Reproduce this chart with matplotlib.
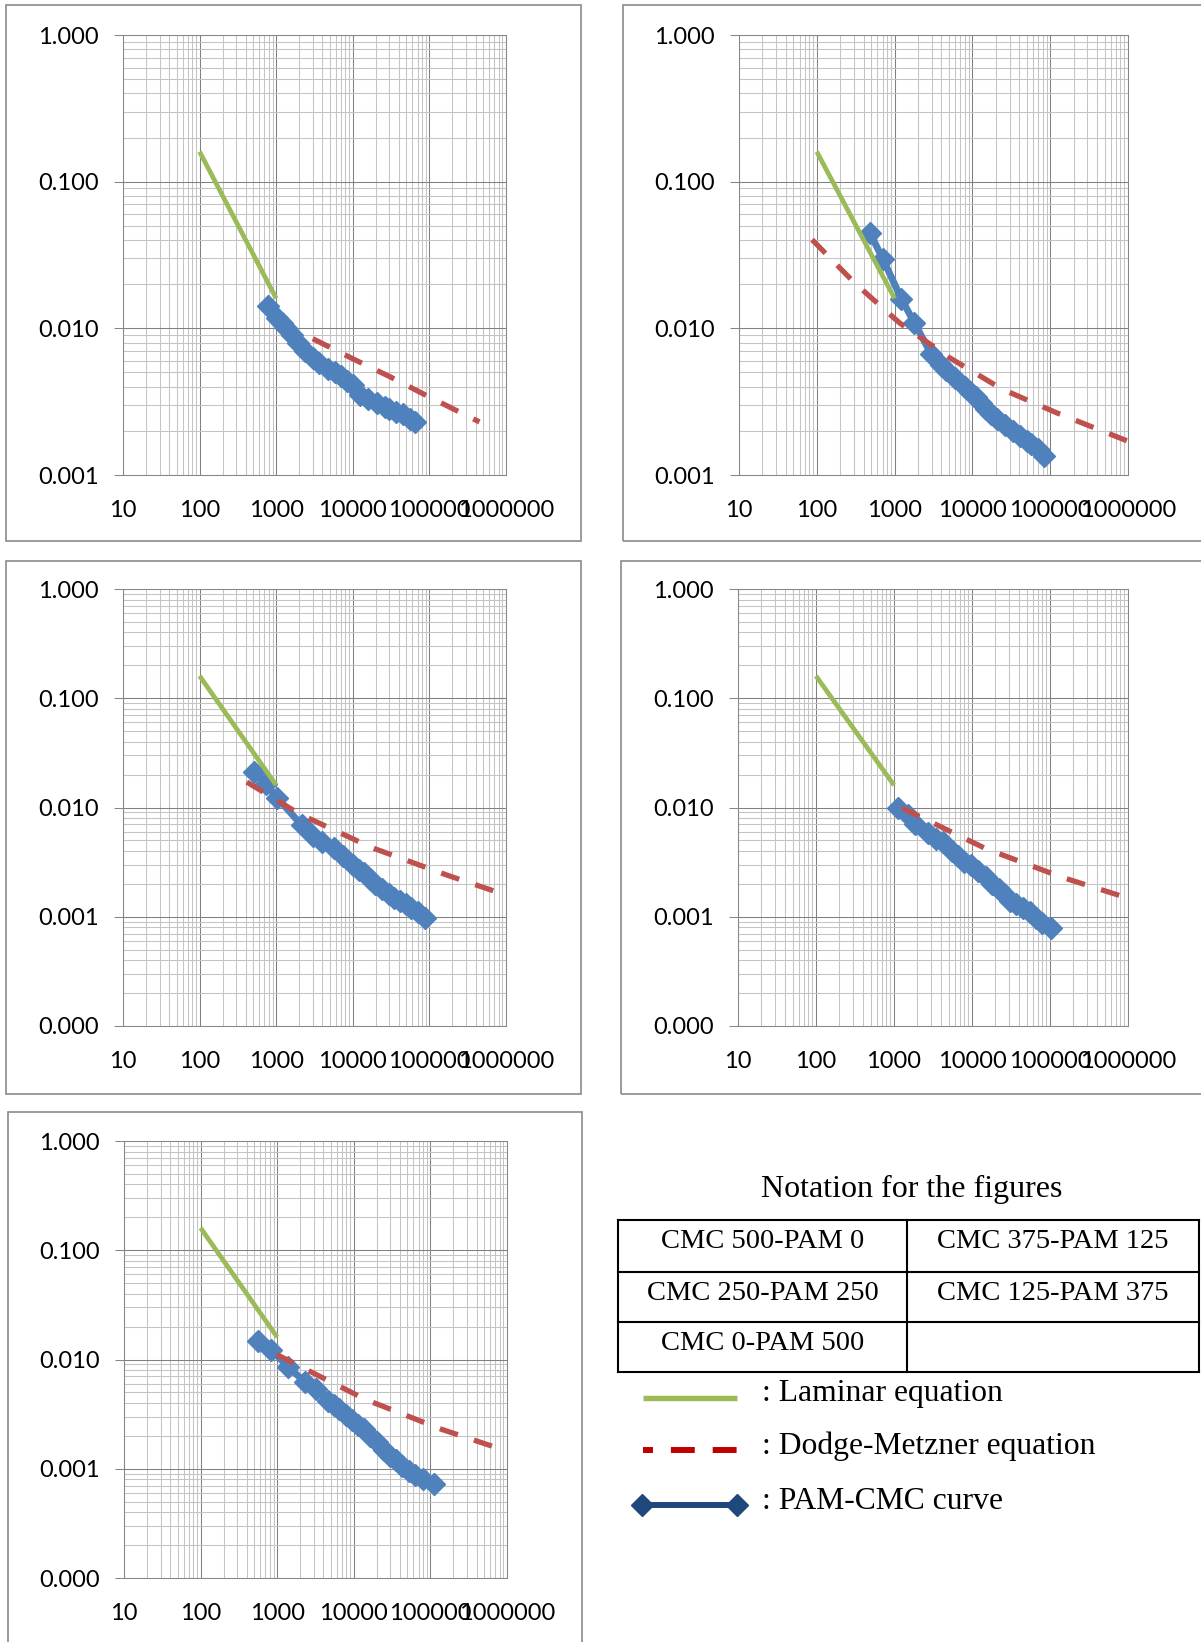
import numpy as np
import matplotlib
matplotlib.use("Agg")
import matplotlib.pyplot as plt
from matplotlib.ticker import LogLocator, NullFormatter, FuncFormatter
from matplotlib.lines import Line2D
from matplotlib.patches import Rectangle

plt.rcParams['font.family'] = ['Lato', 'DejaVu Sans']

# laminar line, same in every panel
lam_re = [100, 1000]
lam_f = [0.16, 0.016]

# panel 1
p1_re = [789, 1025, 1200, 1362, 1600, 1917, 2400, 3020, 3600, 4770, 5800, 7100,
         8500, 10000, 12500, 16000, 20900, 26000, 30000, 36900, 45000, 55000, 65200]
p1_f = [0.0143, 0.0118, 0.0108, 0.0100, 0.0090, 0.0080, 0.0070, 0.0063, 0.0058, 0.0053,
        0.0050, 0.0047, 0.0044, 0.0041, 0.0035, 0.0033, 0.0031, 0.0029, 0.0028, 0.0027,
        0.0026, 0.0024, 0.0023]
p1_dm_re = [3000, 10000, 30000, 100000, 450000]
p1_dm_f = [0.0085, 0.0062, 0.0047, 0.0034, 0.0023]

# panel 2
p2_re = [480, 705, 1222, 1795, 2944, 4000, 4570, 6010, 8000, 9330, 11000, 13000,
         15000, 17100, 21000, 26500, 33000, 41200, 50000, 57300, 70000, 84300]
p2_f = [0.0449, 0.0298, 0.0159, 0.0109, 0.0067, 0.0056, 0.0052, 0.0046, 0.0040, 0.0037,
        0.0034, 0.0031, 0.0028, 0.0026, 0.0024, 0.0022, 0.0020, 0.00185, 0.0017, 0.00162,
        0.0015, 0.00134]
p2_dm_re = [87, 309, 1156, 5100, 23800, 124000, 1000000]
p2_dm_f = [0.0402, 0.0203, 0.0109, 0.0063, 0.00386, 0.00264, 0.00170]

# panel 3
p3_re = [518, 730, 1025, 2150, 3020, 4020, 5650, 7510, 9980, 12000, 14000, 17000,
         19700, 24000, 29400, 35000, 41400, 50000, 58200, 70000, 86700]
p3_f = [0.0213, 0.0165, 0.0123, 0.0069, 0.0055, 0.0048, 0.0043, 0.0036, 0.0030, 0.0027,
        0.0025, 0.0022, 0.0020, 0.0018, 0.0016, 0.0015, 0.0014, 0.0013, 0.0012, 0.0011,
        0.00098]
p3_dm_re = [413, 2030, 17600, 171000, 1000000]
p3_dm_f = [0.0171, 0.0087, 0.0043, 0.0024, 0.00158]

# panel 4
p4_re = [1140, 1500, 1868, 2740, 3500, 4250, 5500, 6590, 8000, 9680, 12000, 15000,
         18000, 22000, 26000, 30600, 37000, 44900, 55000, 65900, 80000, 102000]
p4_f = [0.0099, 0.0085, 0.0071, 0.0059, 0.0052, 0.0048, 0.0040, 0.0036, 0.0032, 0.0030,
        0.0026, 0.0023, 0.0020, 0.0018, 0.0016, 0.0014, 0.0013, 0.0012, 0.0011, 0.00098,
        0.00088, 0.00079]
p4_dm_re = [1273, 15000, 142000, 1000000]
p4_dm_f = [0.0099, 0.0042, 0.0023, 0.00148]

# panel 5
p5_re = [557, 830, 1385, 2310, 3250, 4580, 5500, 6440, 8000, 9590, 11500, 13500,
         16500, 20100, 25000, 30000, 36000, 42200, 52000, 62800, 80000, 111000]
p5_f = [0.0148, 0.0123, 0.0086, 0.0062, 0.0054, 0.0042, 0.0038, 0.0035, 0.0031, 0.0028,
        0.0025, 0.0023, 0.0020, 0.00175, 0.0015, 0.0013, 0.0012, 0.00105, 0.00095, 0.00088,
        0.0008, 0.00073]
p5_dm_re = [984, 14300, 139000, 1000000]
p5_dm_f = [0.0111, 0.0043, 0.0023, 0.00145]

table_cells = ["CMC 500-PAM 0", "CMC 375-PAM 125",
               "CMC 250-PAM 250", "CMC 125-PAM 375",
               "CMC 0-PAM 500", ""]
notation_title = "Notation for the figures"
legend_labels = [": Laminar equation", ": Dodge-Metzner equation", ": PAM-CMC curve"]

W, H = 1201, 1642


def fx(px):
    return px / W


def fy(py):
    return 1 - py / H


fig = plt.figure(figsize=(W / 100, H / 100), dpi=100)

panels = [
    (p1_re, p1_f, p1_dm_re, p1_dm_f, (123, 35, 506, 475), 1e-3, (6, 5, 581, 541)),
    (p2_re, p2_f, p2_dm_re, p2_dm_f, (739, 35, 1128, 475), 1e-3, (623, 5, 1230, 541)),
    (p3_re, p3_f, p3_dm_re, p3_dm_f, (123, 589, 506, 1026), 1e-4, (6, 561, 581, 1094)),
    (p4_re, p4_f, p4_dm_re, p4_dm_f, (738, 589, 1128, 1026), 1e-4, (621, 561, 1230, 1094)),
    (p5_re, p5_f, p5_dm_re, p5_dm_f, (124, 1141, 507, 1578), 1e-4, (8, 1112, 582, 1680)),
]

for re, f, dre, df, box, ymin, frame in panels:
    # panel frame
    l, t, r, b = frame
    fig.add_artist(Rectangle((fx(l), fy(b)), (r - l) / W, (b - t) / H,
                             transform=fig.transFigure, fill=False,
                             ec='#8a8a8a', lw=1.2))
    l, t, r, b = box
    ax = fig.add_axes([fx(l), fy(b), (r - l) / W, (b - t) / H])
    ax.set_xscale('log')
    ax.set_yscale('log')
    ax.set_xlim(10, 1e6)
    ax.set_ylim(ymin, 1)
    for axis in (ax.xaxis, ax.yaxis):
        axis.set_major_locator(LogLocator(base=10, numticks=12))
        axis.set_minor_locator(LogLocator(base=10, subs=np.arange(2, 10), numticks=12))
        axis.set_minor_formatter(NullFormatter())
    ax.xaxis.set_major_formatter(FuncFormatter(lambda v, _: f"{v:.0f}"))
    ax.yaxis.set_major_formatter(FuncFormatter(lambda v, _: f"{v:.3f}"))
    ax.grid(which='minor', color='#c4c4c4', lw=0.75)
    ax.grid(which='major', color='#808080', lw=0.75)
    ax.set_axisbelow(True)
    for s in ax.spines.values():
        s.set_color('#868686')
        s.set_linewidth(0.75)
    ax.tick_params(which='minor', length=0)
    ax.tick_params(axis='y', which='major', direction='out', length=6.5, width=0.75,
                   color='#868686', pad=11, labelsize=17)
    ax.tick_params(axis='x', which='major', length=0, pad=18, labelsize=17)

    ax.plot(re, f, color='#4F81BD', lw=5, marker='D', ms=11.5, zorder=3)
    ax.plot(lam_re, lam_f, color='#9BBB59', lw=3.4, solid_capstyle='butt', zorder=4)
    ax.plot(dre, df, color='#C0504D', lw=3.8, dashes=(3.6, 3.2),
            dash_capstyle='butt', zorder=4, clip_on=False)

# notation block
serif = ['Liberation Serif', 'DejaVu Serif']
fig.text(fx(912), fy(1189), notation_title, ha='center', va='center',
         family=serif, size=23)

row_y = [1220, 1272, 1322, 1372]
col_x = [618, 907, 1199]
for y in row_y:
    fig.add_artist(Line2D([fx(col_x[0]), fx(col_x[-1])], [fy(y), fy(y)],
                          transform=fig.transFigure, color='black', lw=1.5))
for x in col_x:
    fig.add_artist(Line2D([fx(x), fx(x)], [fy(row_y[0]), fy(row_y[-1])],
                          transform=fig.transFigure, color='black', lw=1.5))
for i, txt in enumerate(table_cells):
    row, col = divmod(i, 2)
    cx = (col_x[col] + col_x[col + 1]) / 2
    cy = row_y[row] + 21
    fig.text(fx(cx), fy(cy), txt, ha='center', va='center', family=serif, size=20.5)

# legend samples
leg_y = [1397.5, 1450, 1505]
fig.add_artist(Line2D([fx(643), fx(737)], [fy(leg_y[0])] * 2, transform=fig.transFigure,
                      color='#9BBB59', lw=3.9, solid_capstyle='butt'))
fig.add_artist(Line2D([fx(643), fx(737)], [fy(leg_y[1])] * 2, transform=fig.transFigure,
                      color='#C00000', lw=4.3, linestyle=(2.33, (4, 3)),
                      dash_capstyle='butt'))
fig.add_artist(Line2D([fx(642), fx(737)], [fy(leg_y[2])] * 2, transform=fig.transFigure,
                      color='#1F497D', lw=4.3, marker='D', ms=11.5))
for y, txt in zip(leg_y, legend_labels):
    fig.text(fx(762), fy(y - 4), txt, ha='left', va='center', family=serif, size=22.8)

fig.savefig('out.png', dpi=100)
